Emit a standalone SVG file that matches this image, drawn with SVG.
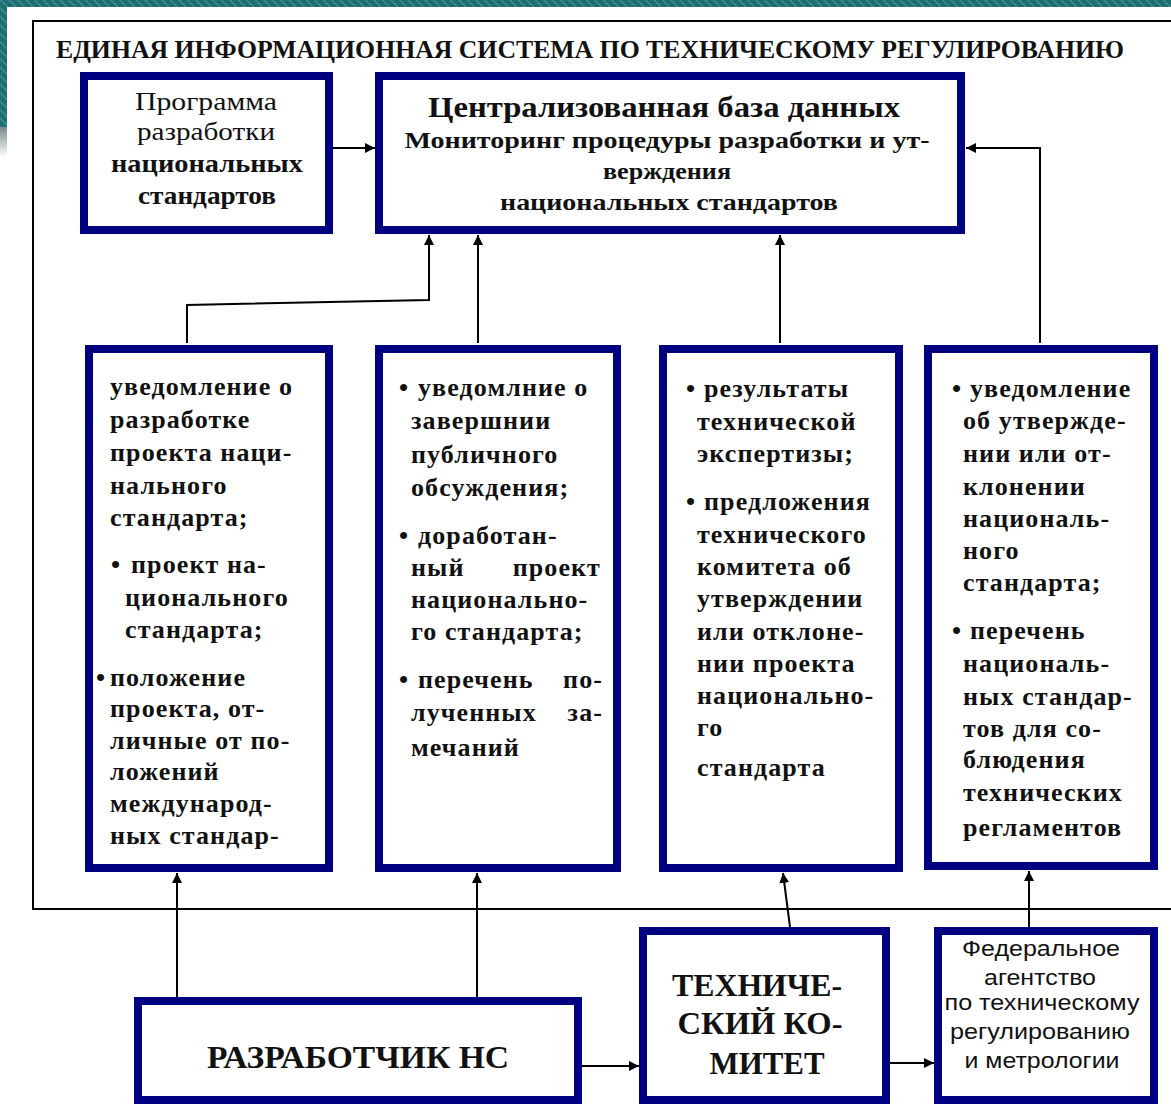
<svg xmlns="http://www.w3.org/2000/svg" width="1171" height="1105" viewBox="0 0 1171 1105">
<style>
.box{fill:#fff;stroke:#000080;stroke-width:8}
.frame{fill:none;stroke:#000;stroke-width:2}
.con{fill:none;stroke:#000;stroke-width:2}
.t{font-family:"Liberation Serif","Times New Roman",serif;font-weight:bold;font-size:26px;letter-spacing:1.1px;fill:#111}
.h{font-family:"Liberation Serif","Times New Roman",serif;font-weight:bold;fill:#111;text-anchor:middle}
.r{font-weight:normal}
.s{font-family:"Liberation Sans",Arial,sans-serif;font-size:22px;fill:#111;text-anchor:middle}
</style>
<defs>
<pattern id="hatch" width="6" height="6" patternUnits="userSpaceOnUse" patternTransform="rotate(-45)">
<rect width="6" height="6" fill="#1f6f72"/>
<line x1="0" y1="0" x2="0" y2="6" stroke="#5fa3a3" stroke-width="1.5"/>
</pattern>
<linearGradient id="gr" x1="0" y1="0" x2="0" y2="1">
<stop offset="0" stop-color="#7d8a8a"/>
<stop offset="1" stop-color="#ffffff"/>
</linearGradient>
<marker id="ah" markerUnits="userSpaceOnUse" markerWidth="10" markerHeight="10" refX="10" refY="5" orient="auto">
<path d="M0,0 L10,5 L0,10 z" fill="#000"/>
</marker>
</defs>
<rect width="1171" height="1105" fill="#fff"/>
<rect x="0" y="0" width="1171" height="7" fill="url(#hatch)"/>
<rect x="0" y="0" width="7" height="127" fill="url(#hatch)"/>
<rect x="0" y="127" width="7" height="30" fill="url(#gr)"/>
<rect class="frame" x="33" y="21" width="1150" height="888"/>
<text class="h" x="590" y="58" font-size="26" textLength="1068" lengthAdjust="spacingAndGlyphs">ЕДИНАЯ ИНФОРМАЦИОННАЯ СИСТЕМА ПО ТЕХНИЧЕСКОМУ РЕГУЛИРОВАНИЮ</text>

<g id="connectors">
<line class="con" x1="333" y1="148" x2="375" y2="148" marker-end="url(#ah)"/>
<polyline class="con" points="187,343 187,305 429,300 429,235" marker-end="url(#ah)"/>
<line class="con" x1="478" y1="343" x2="478" y2="235" marker-end="url(#ah)"/>
<line class="con" x1="780" y1="343" x2="780" y2="235" marker-end="url(#ah)"/>
<polyline class="con" points="1040,343 1040,148 966,148" marker-end="url(#ah)"/>
<line class="con" x1="177" y1="997" x2="177" y2="873" marker-end="url(#ah)"/>
<line class="con" x1="477" y1="997" x2="477" y2="873" marker-end="url(#ah)"/>
<line class="con" x1="582" y1="1066" x2="639" y2="1066" marker-end="url(#ah)"/>
<line class="con" x1="790" y1="927" x2="783" y2="873" marker-end="url(#ah)"/>
<line class="con" x1="890" y1="1063" x2="934" y2="1063" marker-end="url(#ah)"/>
<line class="con" x1="1029" y1="927" x2="1029" y2="871" marker-end="url(#ah)"/>
</g>

<g id="programma">
<rect class="box" x="84" y="76" width="245" height="154"/>
<text class="h r" x="206" y="110" font-size="26" textLength="142" lengthAdjust="spacingAndGlyphs">Программа</text>
<text class="h r" x="206" y="140" font-size="26" textLength="138" lengthAdjust="spacingAndGlyphs">разработки</text>
<text class="h" x="207" y="172" font-size="25" textLength="192" lengthAdjust="spacingAndGlyphs">национальных</text>
<text class="h" x="207" y="204" font-size="25" textLength="138" lengthAdjust="spacingAndGlyphs">стандартов</text>
</g>

<g id="central">
<rect class="box" x="379" y="76" width="582" height="154"/>
<text class="h" x="664" y="117" font-size="29" textLength="472" lengthAdjust="spacingAndGlyphs">Централизованная база данных</text>
<text class="h" x="667" y="148" font-size="24" textLength="525" lengthAdjust="spacingAndGlyphs">Мониторинг процедуры разработки и ут-</text>
<text class="h" x="667" y="179" font-size="24" textLength="128" lengthAdjust="spacingAndGlyphs">верждения</text>
<text class="h" x="669" y="210" font-size="24" textLength="338" lengthAdjust="spacingAndGlyphs">национальных стандартов</text>
</g>

<g id="box1">
<rect class="box" x="89" y="349" width="240" height="519"/>
<text class="t" x="110" y="395">уведомление о</text>
<text class="t" x="110" y="428">разработке</text>
<text class="t" x="110" y="461">проекта наци-</text>
<text class="t" x="110" y="494">нального</text>
<text class="t" x="110" y="526">стандарта;</text>
<text class="t" x="111" y="573">•</text><text class="t" x="131" y="573">проект на-</text>
<text class="t" x="125" y="606">ционального</text>
<text class="t" x="125" y="638">стандарта;</text>
<text class="t" x="96" y="686">•</text><text class="t" x="110" y="686">положение</text>
<text class="t" x="110" y="717">проекта, от-</text>
<text class="t" x="110" y="749">личные от по-</text>
<text class="t" x="110" y="780">ложений</text>
<text class="t" x="110" y="812">международ-</text>
<text class="t" x="110" y="844">ных стандар-</text>
</g>

<g id="box2">
<rect class="box" x="379" y="349" width="238" height="519"/>
<text class="t" x="399" y="396">•</text><text class="t" x="418" y="396">уведомлние о</text>
<text class="t" x="411" y="429">завершнии</text>
<text class="t" x="411" y="463">публичного</text>
<text class="t" x="411" y="496">обсуждения;</text>
<text class="t" x="399" y="544">•</text><text class="t" x="418" y="544">доработан-</text>
<text class="t" x="411" y="576">ный</text><text class="t" x="601" y="576" text-anchor="end">проект</text>
<text class="t" x="411" y="608">национально-</text>
<text class="t" x="411" y="640">го стандарта;</text>
<text class="t" x="399" y="688">•</text><text class="t" x="418" y="688">перечень</text><text class="t" x="603" y="688" text-anchor="end">по-</text>
<text class="t" x="411" y="721">лученных</text><text class="t" x="603" y="721" text-anchor="end">за-</text>
<text class="t" x="411" y="756">мечаний</text>
</g>

<g id="box3">
<rect class="box" x="663" y="349" width="236" height="519"/>
<text class="t" x="686" y="397">•</text><text class="t" x="704" y="397">результаты</text>
<text class="t" x="697" y="430">технической</text>
<text class="t" x="697" y="462">экспертизы;</text>
<text class="t" x="686" y="510">•</text><text class="t" x="704" y="510">предложения</text>
<text class="t" x="697" y="543">технического</text>
<text class="t" x="697" y="575">комитета об</text>
<text class="t" x="697" y="607">утверждении</text>
<text class="t" x="697" y="640">или отклоне-</text>
<text class="t" x="697" y="672">нии проекта</text>
<text class="t" x="697" y="704">национально-</text>
<text class="t" x="697" y="736">го</text>
<text class="t" x="697" y="776">стандарта</text>
</g>

<g id="box4">
<rect class="box" x="928" y="349" width="226" height="517"/>
<text class="t" x="952" y="397">•</text><text class="t" x="970" y="397">уведомление</text>
<text class="t" x="963" y="429">об утвержде-</text>
<text class="t" x="963" y="462">нии или от-</text>
<text class="t" x="963" y="495">клонении</text>
<text class="t" x="963" y="527">националь-</text>
<text class="t" x="963" y="559">ного</text>
<text class="t" x="963" y="591">стандарта;</text>
<text class="t" x="952" y="639">•</text><text class="t" x="970" y="639">перечень</text>
<text class="t" x="963" y="672">националь-</text>
<text class="t" x="963" y="705">ных стандар-</text>
<text class="t" x="963" y="737">тов для со-</text>
<text class="t" x="963" y="768">блюдения</text>
<text class="t" x="963" y="801">технических</text>
<text class="t" x="963" y="836">регламентов</text>
</g>

<g id="razrabotchik">
<rect class="box" x="138" y="1001" width="440" height="99"/>
<text class="h" x="358" y="1068" font-size="32" textLength="302" lengthAdjust="spacingAndGlyphs">РАЗРАБОТЧИК НС</text>
</g>

<g id="tk">
<rect class="box" x="643" y="931" width="243" height="169"/>
<text class="h" x="757" y="996" font-size="32" textLength="170" lengthAdjust="spacingAndGlyphs">ТЕХНИЧЕ-</text>
<text class="h" x="760" y="1034" font-size="32" textLength="165" lengthAdjust="spacingAndGlyphs">СКИЙ КО-</text>
<text class="h" x="767" y="1074" font-size="32" textLength="115" lengthAdjust="spacingAndGlyphs">МИТЕТ</text>
</g>

<g id="federal">
<rect class="box" x="938" y="931" width="216" height="169"/>
<text class="s" x="1041" y="956" textLength="158" lengthAdjust="spacingAndGlyphs">Федеральное</text>
<text class="s" x="1040" y="985" textLength="112" lengthAdjust="spacingAndGlyphs">агентство</text>
<text class="s" x="1042" y="1010" textLength="195" lengthAdjust="spacingAndGlyphs">по техническому</text>
<text class="s" x="1040" y="1039" textLength="180" lengthAdjust="spacingAndGlyphs">регулированию</text>
<text class="s" x="1042" y="1068" textLength="155" lengthAdjust="spacingAndGlyphs">и метрологии</text>
</g>
</svg>
